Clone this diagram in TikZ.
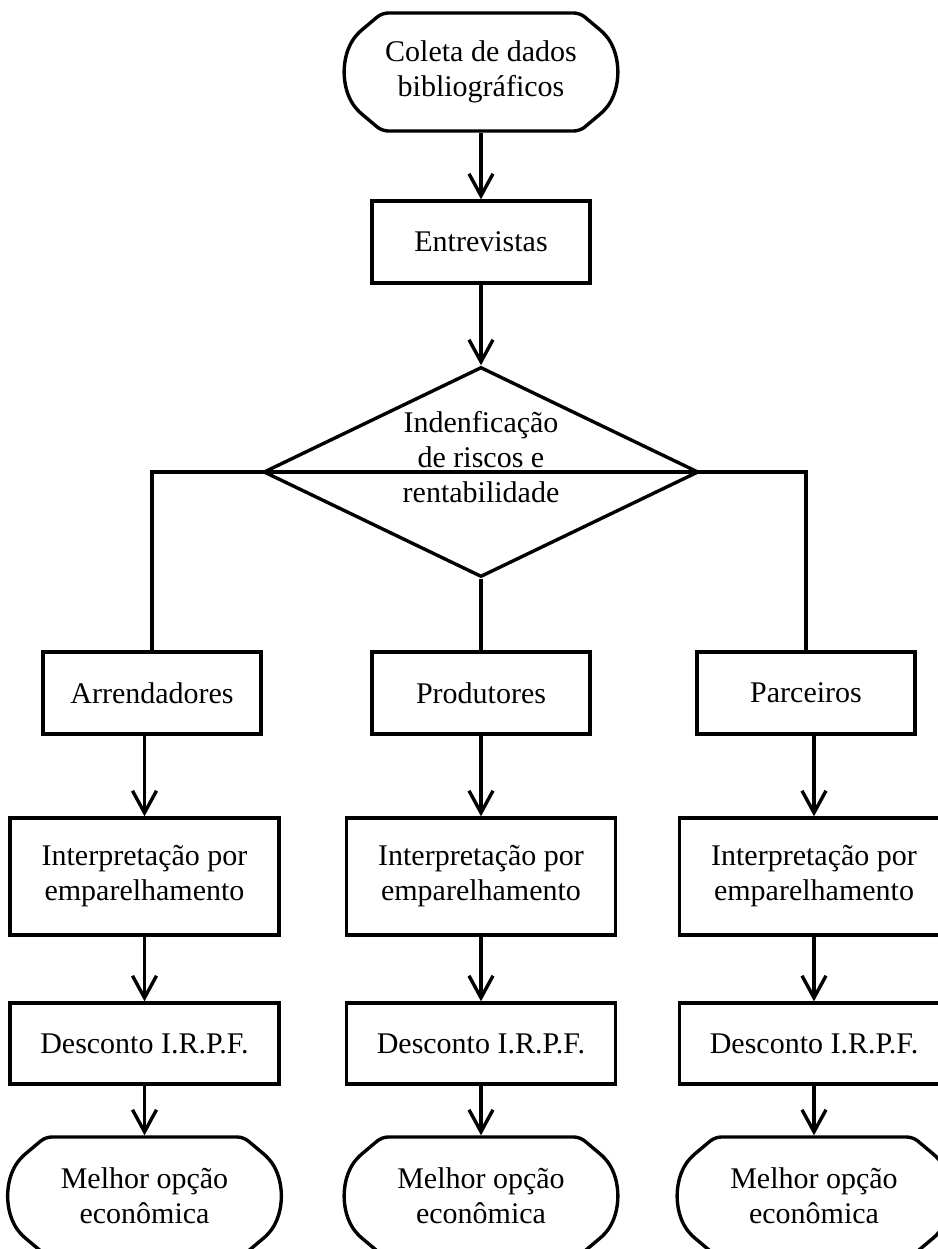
\documentclass[tikz,border=0pt]{standalone}
\usepackage{fontspec}
\setmainfont{Liberation Serif}
\usetikzlibrary{shapes,arrows.meta,positioning,calc}

% outline of the rounded start/end blocks, drawn round a named node
\newcommand{\termoutline}[1]{%
  \draw[shift={(#1.center)}, rounded corners=3pt] (99,-59) -- (124,-38)
    .. controls (140,-15) and (140,15) .. (124,38) -- (99,59)
    -- (-99,59) -- (-124,38)
    .. controls (-140,15) and (-140,-15) .. (-124,-38) -- (-99,-59) -- cycle;}

\begin{document}
\begin{tikzpicture}[
    x=0.5pt, y=-0.5pt,
    line width=1.7pt,
    font=\fontsize{15pt}{17.5pt}\selectfont,
    box/.style={rectangle, draw, align=center, minimum width=109pt, minimum height=41pt, inner sep=0pt},
    widebox/.style={box, minimum width=134.5pt, minimum height=58.5pt},
    taxbox/.style={box, minimum width=134.5pt, minimum height=40.5pt},
    terminal/.style={rectangle, align=center, minimum width=136pt, minimum height=59pt, inner sep=0pt},
    decision/.style={diamond, draw, align=center, aspect=2.07, minimum width=217.5pt, minimum height=105pt, inner sep=0pt, text depth=15pt},
    arrow/.style={-{Straight Barb[length=11pt,width=12pt]}}
]
    \useasboundingbox (0,0) rectangle (938,1249);
    \clip (0,0) rectangle (938,1249);

    \node[terminal] (start) at (481,72) {Coleta de dados\\bibliográficos};
    \termoutline{start}
    \node[box] (interv) at (481,242) {Entrevistas};
    \node[decision] (decide) at (481,472) {Indenficação\\de riscos e\\rentabilidade};

    \node[box] (arr) at (152,693) {Arrendadores};
    \node[box] (prod) at (481,693) {Produtores};
    \node[box] (parc) at (806,693) {Parceiros};

    \foreach \x/\i in {144.5/1, 481/2, 814/3} {
        \node[widebox] (interp\i) at (\x,876.5) {Interpretação por\\emparelhamento};
        \node[taxbox] (irpf\i) at (\x,1043.5) {Desconto I.R.P.F.};
        \node[terminal] (best\i) at (\x,1196) {Melhor opção\\econômica};
        \termoutline{best\i}
    }

    \draw[arrow] (start.south) -- (interv.north);
    \draw[arrow] (interv.south) -- (decide.north);
    \draw (decide.west) -- (decide.east);
    \draw (decide.west) -| (arr.north);
    \draw (decide.east) -| (parc.north);
    \draw (decide.south) -- (prod.north);

    \foreach \g/\i in {arr/1, prod/2, parc/3} {
        \draw[arrow] (\g.south -| interp\i.north) -- (interp\i.north);
        \draw[arrow] (interp\i.south) -- (irpf\i.north);
        \draw[arrow] (irpf\i.south) -- (best\i.north);
    }
\end{tikzpicture}
\end{document}
